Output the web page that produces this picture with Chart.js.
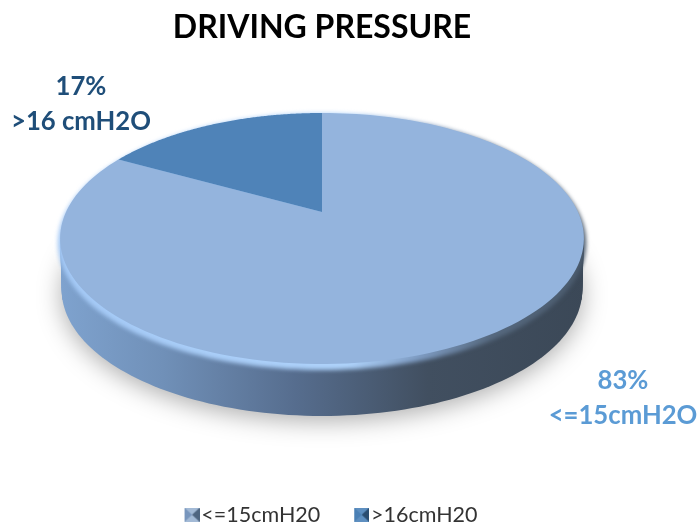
<!DOCTYPE html>
<html>
<head>
<meta charset="utf-8">
<title>Driving pressure</title>
<script src="https://cdn.jsdelivr.net/npm/chart.js@4/dist/chart.umd.min.js"></script>
<style>
  html, body { margin: 0; padding: 0; background: #ffffff; }
  #wrap { position: relative; width: 700px; height: 523px; }
</style>
</head>
<body>
<div id="wrap"><canvas id="chart-driving-pressure"></canvas></div>
<script>
'use strict';

const categories = ['<=15cmH20', '>16cmH20'];
const percentages = [83, 17];
const sliceNames = ['<=15cmH2O', '>16 cmH2O'];
const sliceColors = ['#94b4dd', '#4f83b8'];
const labelColors = ['#5b9bd5', '#1f4e79'];

// Posicion de las etiquetas de porcentaje
const labelCenters = [{ x: 623, y: 381 }, { x: 81, y: 87 }];

// Proyeccion en perspectiva del disco
const PIE_X = 322;
const APEX_Y = 212;
const SCALE_X = 256;
const SCALE_Y = 119.9;
const TILT = -0.211;
const WALL_DEPTH = 52;

function punto(angulo, ensanche, caida) {
  const u = Math.cos(angulo);
  const v = Math.sin(angulo);
  const w = 1 + TILT * v;
  const peso = (v + 1) / 2;
  return {
    x: PIE_X + (SCALE_X * u / w) * (1 + (ensanche - 1) * peso),
    y: APEX_Y + SCALE_Y * v / w + caida * peso
  };
}

function trazarContorno(ctx, ensanche, caida, baja) {
  ctx.beginPath();
  for (let i = 0; i <= 240; i++) {
    const p = punto((i / 240) * Math.PI * 2, ensanche, caida);
    ctx.lineTo(p.x, p.y + baja);
  }
  ctx.closePath();
}

function trazarPorcion(ctx, arco) {
  ctx.beginPath();
  ctx.moveTo(PIE_X, APEX_Y);
  const pasos = 160;
  for (let i = 0; i <= pasos; i++) {
    const a = arco.startAngle + (arco.endAngle - arco.startAngle) * (i / pasos);
    const p = punto(a, 1, 0);
    ctx.lineTo(p.x, p.y);
  }
  ctx.closePath();
}

function degradadoPared(ctx) {
  const g = ctx.createLinearGradient(57, 0, 587, 0);
  g.addColorStop(0, '#7fa3cf');
  g.addColorStop(0.2, '#7090b8');
  g.addColorStop(0.45, '#566d8e');
  g.addColorStop(0.7, '#414f60');
  g.addColorStop(1, '#3b4857');
  return g;
}

function degradadoBorde(ctx) {
  const g = ctx.createLinearGradient(57, 0, 587, 0);
  g.addColorStop(0, '#a3c8f5');
  g.addColorStop(0.55, '#aed2fa');
  g.addColorStop(0.68, '#7f9dc4');
  g.addColorStop(0.82, '#56697f');
  g.addColorStop(1, '#4a5a6c');
  return g;
}

const discoPlugin = {
  id: 'disco',
  afterLayout: function (chart) {
    // La leyenda va abajo del todo, algo a la derecha del disco
    const leyenda = chart.legend;
    leyenda.left += 11;
    leyenda.right += 11;
    leyenda.top = 504 - chart.options.plugins.legend.labels.padding;
  },
  beforeDatasetDraw: function (chart) {
    const ctx = chart.ctx;
    const arcos = chart.getDatasetMeta(0).data;

    // Sombra y pared lateral
    ctx.save();
    ctx.shadowColor = 'rgba(0,0,0,0.32)';
    ctx.shadowBlur = 24;
    ctx.shadowOffsetY = 5;
    ctx.fillStyle = degradadoPared(ctx);
    trazarContorno(ctx, 0.99, 0, WALL_DEPTH);
    ctx.fill();
    ctx.restore();

    ctx.save();
    ctx.fillStyle = degradadoPared(ctx);
    ctx.beginPath();
    ctx.rect(57, 240, 530, 60);
    ctx.clip();
    for (let baja = 0; baja <= WALL_DEPTH; baja += 2) {
      trazarContorno(ctx, 1 - 0.01 * (baja / WALL_DEPTH), 0, baja);
      ctx.fill();
    }
    ctx.restore();

    // Bisel del borde, difuso hacia la pared
    ctx.save();
    ctx.filter = 'blur(2px)';
    ctx.fillStyle = degradadoBorde(ctx);
    trazarContorno(ctx, 1.014, 6, 0);
    ctx.fill();
    ctx.restore();

    // Cara superior
    arcos.forEach(function (arco, i) {
      ctx.save();
      ctx.filter = 'blur(0.7px)';
      ctx.fillStyle = sliceColors[i];
      trazarPorcion(ctx, arco);
      ctx.fill();
      ctx.restore();
    });
    return false;
  },
  afterDraw: function (chart) {
    const ctx = chart.ctx;
    ctx.save();
    ctx.textAlign = 'center';
    ctx.textBaseline = 'middle';
    ctx.font = 'bold 25.7px Lato';
    percentages.forEach(function (valor, i) {
      ctx.fillStyle = labelColors[i];
      ctx.fillText(valor + '%', labelCenters[i].x, labelCenters[i].y);
      ctx.fillText(sliceNames[i], labelCenters[i].x, labelCenters[i].y + 35);
    });
    ctx.restore();
  }
};

// Cuadrito biselado de la leyenda; el margen izquierdo lo acerca al texto
function crearMarcador(claro, medio, oscuro) {
  const c = document.createElement('canvas');
  c.width = 20;
  c.height = 14;
  const x = c.getContext('2d');
  x.translate(5, 0);
  x.fillStyle = medio;
  x.fillRect(0, 0, 15, 14);
  x.fillStyle = claro;
  x.beginPath();
  x.moveTo(0, 0);
  x.lineTo(7.5, 7);
  x.lineTo(0, 14);
  x.closePath();
  x.fill();
  x.fillStyle = oscuro;
  x.beginPath();
  x.moveTo(15, 0);
  x.lineTo(7.5, 7);
  x.lineTo(15, 14);
  x.closePath();
  x.fill();
  return c;
}

const markers = [
  crearMarcador('#7896bd', '#a3bad6', '#4e6580'),
  crearMarcador('#4a80b5', '#5e8fc0', '#2a4d70')
];

new Chart(document.getElementById('chart-driving-pressure').getContext('2d'), {
  type: 'pie',
  data: {
    labels: categories,
    datasets: [{ data: percentages, backgroundColor: sliceColors, borderWidth: 0 }]
  },
  options: {
    responsive: true,
    maintainAspectRatio: false,
    animation: false,
    layout: { padding: { left: 22, right: 78 } },
    plugins: {
      tooltip: { enabled: false },
      title: {
        display: true,
        text: 'DRIVING PRESSURE',
        color: '#000000',
        font: { family: 'Lato', size: 32, weight: 'bold' },
        padding: { top: 8, bottom: 10 }
      },
      legend: {
        position: 'bottom',
        labels: {
          usePointStyle: true,
          pointStyleWidth: 2,
          padding: 38,
          color: '#333333',
          font: { family: 'Lato', size: 21.5 },
          generateLabels: function () {
            return categories.map(function (nombre, i) {
              return {
                text: nombre,
                pointStyle: markers[i],
                fontColor: '#333333',
                lineWidth: 0,
                datasetIndex: 0,
                index: i
              };
            });
          }
        }
      }
    }
  },
  plugins: [discoPlugin]
});
</script>
</body>
</html>
